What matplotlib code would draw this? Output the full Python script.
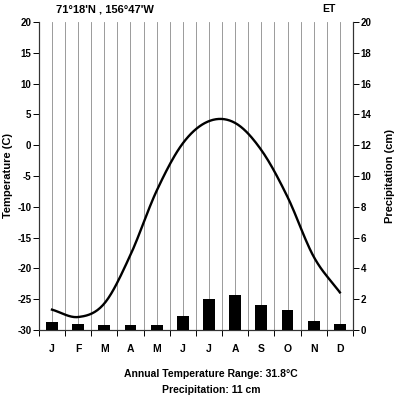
#!/usr/bin/env python3

"""
Climograph for Barrow, Alaska (ET climate): monthly temperature as a
smoothed line and monthly precipitation as bars.
"""

import numpy as np
import matplotlib
matplotlib.use('Agg')
import matplotlib.pyplot as plt

plt.rcParams['font.family'] = ['Liberation Sans', 'DejaVu Sans']
plt.rcParams['font.weight'] = 'bold'
plt.rcParams['axes.unicode_minus'] = False

# DATA
months = ['J', 'F', 'M', 'A', 'M', 'J', 'J', 'A', 'S', 'O', 'N', 'D']
temperature = [-26.7, -27.9, -25.7, -17.8, -7.4, 0.3, 3.9, 3.6, -0.8, -8.4, -18.1, -23.9]
precipitation = [0.5, 0.4, 0.3, 0.3, 0.3, 0.9, 2.0, 2.3, 1.6, 1.3, 0.6, 0.4]
temp_ticks = [-30, -25, -20, -15, -10, -5, 0, 5, 10, 15, 20]
precip_ticks = [0, 2, 4, 6, 8, 10, 12, 14, 16, 18, 20]


def smooth_line(x, y, n=20):
    """Catmull-Rom smoothing, like a spreadsheet 'smoothed line'"""
    x = np.asarray(x, float)
    y = np.asarray(y, float)
    px = np.concatenate([[2 * x[0] - x[1]], x, [2 * x[-1] - x[-2]]])
    py = np.concatenate([[2 * y[0] - y[1]], y, [2 * y[-1] - y[-2]]])
    t = np.linspace(0, 1, n)
    xs, ys = [], []
    for i in range(1, len(px) - 2):
        for p, out in ((px, xs), (py, ys)):
            p0, p1, p2, p3 = p[i - 1], p[i], p[i + 1], p[i + 2]
            out.extend(0.5 * (2 * p1 + (-p0 + p2) * t
                              + (2 * p0 - 5 * p1 + 4 * p2 - p3) * t ** 2
                              + (-p0 + 3 * p1 - 3 * p2 + p3) * t ** 3))
    return np.array(xs), np.array(ys)


fig = plt.figure(figsize=(3.97, 3.99), dpi=100)
ax = fig.add_axes([0.098, 0.173, 0.791, 0.772])
ax2 = ax.twinx()

pos = np.arange(len(months))

# vertical grid at month centres and boundaries
for gx in np.arange(-0.5, 12, 0.5):
    ax.axvline(gx, color='#8a8a8a', lw=0.6, zorder=0)

sx, sy = smooth_line(pos, temperature)
ax.plot(sx, sy, color='black', lw=1.7, zorder=3)

ax2.bar(pos, precipitation, width=0.45, color='black', zorder=3)

ax.set_xlim(-0.5, 11.5)
ax.set_ylim(-30, 20)
ax2.set_ylim(0, 20)
ax.set_yticks(temp_ticks)
ax2.set_yticks(precip_ticks)
ax.set_xticks(pos)
ax.set_xticklabels(months)
ax.set_xticks(np.arange(-0.5, 12, 1), minor=True)

ax.tick_params(axis='x', which='major', length=0, pad=10, labelsize=7.5)
ax.tick_params(axis='x', which='minor', length=4, width=0.7, direction='out')
ax.tick_params(axis='y', length=4, width=0.7, pad=1.5, labelsize=7)
ax2.tick_params(axis='y', length=4, width=0.7, pad=1.5, labelsize=7)

for a in (ax, ax2):
    a.spines['top'].set_visible(False)
    for s in a.spines.values():
        s.set_linewidth(0.8)
        s.set_color('#333333')

ax.set_ylabel('Temperature (C)', fontsize=8, fontweight='bold', va='center')
ax.yaxis.set_label_coords(-0.1, 0.5)
ax2.set_ylabel('Precipitation (cm)', fontsize=8, fontweight='bold', va='center')
ax2.yaxis.set_label_coords(1.117, 0.5)

fig.text(0.14, 0.975, "71\u00b018'N , 156\u00b047'W", fontsize=8,
         fontweight='bold', va='center')
fig.text(0.812, 0.978, 'ET', fontsize=7.5, fontweight='bold', va='center')
fig.text(0.532, 0.062, 'Annual Temperature Range: 31.8\u00b0C', fontsize=7.5,
         ha='center', va='center')
fig.text(0.532, 0.022, 'Precipitation: 11 cm', fontsize=7.5,
         ha='center', va='center')

plt.savefig('out.png', dpi=100)
